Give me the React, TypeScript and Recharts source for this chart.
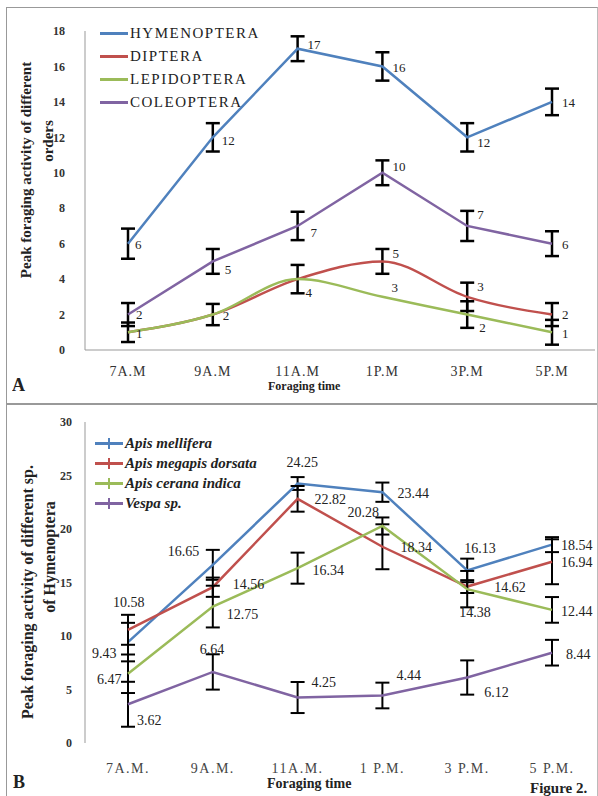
import React from 'react';
import { LineChart, Line, XAxis, YAxis, ErrorBar, LabelList } from 'recharts';

const SERIF = '"Liberation Serif", "Times New Roman", serif';

const timesA = ['7A.M', '9A.M', '11A.M', '1P.M', '3P.M', '5P.M'];
const timesB = ['7A.M.', '9A.M.', '11A.M.', '1 P.M.', '3 P.M.', '5 P.M.'];
const ticksA = [0, 2, 4, 6, 8, 10, 12, 14, 16, 18];
const ticksB = [0, 5, 10, 15, 20, 25, 30];

// panel A - orders
const hymenoptera = [6, 12, 17, 16, 12, 14];
const diptera = [1, 2, 4, 5, 3, 2];
const lepidoptera = [1, 2, 4, 3, 2, 1];
const coleoptera = [2, 5, 7, 10, 7, 6];
const hymenopteraErr = [0.85, 0.8, 0.7, 0.8, 0.8, 0.75];
const dipteraErr = [0.55, 0.6, 0.8, 0.7, 0.8, 0.65];
const lepidopteraErr = [null, null, null, null, 0.75, 0.7];
const coleopteraErr = [0.65, 0.7, 0.8, 0.7, 0.85, 0.7];

// panel B - species of hymenoptera
const apisMellifera = [9.43, 16.65, 24.25, 23.44, 16.13, 18.54];
const apisDorsata = [10.58, 14.56, 22.82, 18.34, 14.62, 16.94];
const apisCerana = [6.47, 12.75, 16.34, 20.28, 14.38, 12.44];
const vespa = [3.62, 6.64, 4.25, 4.44, 6.12, 8.44];
const melliferaErr = [1.8, 1.4, 0.6, 0.9, 1.1, 0.7];
const dorsataErr = [1.4, 0.9, 1.2, 2.1, 0.6, 2.1];
const ceranaErr = [1.8, 1.95, 1.45, 0.8, 1.7, 1.2];
const vespaErr = [2.1, 1.65, 1.45, 1.2, 1.6, 1.2];

const dataA = timesA.map((t, i) => ({
  time: t,
  hym: hymenoptera[i],
  dip: diptera[i],
  lep: lepidoptera[i],
  col: coleoptera[i],
  hymErr: hymenopteraErr[i],
  dipErr: dipteraErr[i],
  lepErr: lepidopteraErr[i],
  colErr: coleopteraErr[i],
}));

const dataB = timesB.map((t, i) => ({
  time: t,
  mel: apisMellifera[i],
  dor: apisDorsata[i],
  cer: apisCerana[i],
  ves: vespa[i],
  melErr: melliferaErr[i],
  dorErr: dorsataErr[i],
  cerErr: ceranaErr[i],
  vesErr: vespaErr[i],
}));

const BLUE = '#4F81BD';
const RED = '#C0504D';
const GREEN = '#9BBB59';
const PURPLE = '#8064A2';

type Off = [number, number] | null;

// label offsets from the point (dx, dy)
const hymLbl: Off[] = [[7, 1], [9, 3], [10, -4], [10, 1], [10, 5], [10, 1]];
const dipLbl: Off[] = [null, null, null, [10, -8], [10, -10], [10, 0]];
const lepLbl: Off[] = [[8, 1], [10, 1], [8, 13], [9, -9], [12, 13], [10, 1]];
const colLbl: Off[] = [[8, 0], [12, 8], [13, 7], [10, -6], [10, -11], [10, 1]];

const melLbl: Off[] = [[-36, 11], [-45, -13], [-11, -21], [15, 1], [-3, -22], [9, 1]];
const dorLbl: Off[] = [[-15, -27], [20, -3], [17, 1], [18, 1], [27, 1], [9, 1]];
const cerLbl: Off[] = [[-31, 6], [14, 8], [15, 2], [-35, -14], [-8, 23], [9, 2]];
const vesLbl: Off[] = [[9, 16], [-13, -22], [14, -15], [14, -20], [17, 15], [14, 2]];

const pointLabel = (offs: Off[], size: number) => (p: any) => {
  const o = offs[p.index];
  if (!o || p.x == null || p.y == null) return null;
  return (
    <text
      key={p.index}
      x={p.x + o[0]}
      y={p.y + o[1]}
      fontSize={size}
      fill="#222"
      fontFamily={SERIF}
      dominantBaseline="central"
    >
      {p.value}
    </text>
  );
};

const legendA = [
  { name: 'HYMENOPTERA', color: BLUE },
  { name: 'DIPTERA', color: RED },
  { name: 'LEPIDOPTERA', color: GREEN },
  { name: 'COLEOPTERA', color: PURPLE },
];

const legendB = [
  { name: 'Apis mellifera', color: BLUE },
  { name: 'Apis megapis dorsata', color: RED },
  { name: 'Apis cerana indica', color: GREEN },
  { name: 'Vespa sp.', color: PURPLE },
];

const abs = (left: number, top: number, extra: React.CSSProperties = {}): React.CSSProperties => ({
  position: 'absolute',
  left,
  top,
  whiteSpace: 'nowrap',
  ...extra,
});

const vertical = (cx: number, cy: number, size: number, text: string) => (
  <div
    style={abs(cx, cy, {
      transform: 'translate(-50%, -50%) rotate(-90deg)',
      fontSize: size,
      fontWeight: 'bold',
      color: '#222',
      lineHeight: 1,
    })}
  >
    {text}
  </div>
);

const App = () => {
  const errA = { width: 7, strokeWidth: 2.5, stroke: '#000' };
  const errB = { width: 7, strokeWidth: 2, stroke: '#000' };
  const lineProps = { dot: false, activeDot: false, strokeWidth: 2.5, isAnimationActive: false };

  return (
    <div
      style={{
        position: 'absolute',
        left: 0,
        top: 0,
        width: 598,
        height: 796,
        background: '#fff',
        fontFamily: SERIF,
        overflow: 'hidden',
      }}
    >
      {/* frame */}
      <div style={abs(6, 7, { width: 590, height: 800, borderLeft: '1px solid #999', borderTop: '1px solid #999', borderRight: '1px solid #bbb' })} />
      <div style={abs(6, 403, { width: 591, height: 0, borderTop: '2px solid #999' })} />

      {/* Panel A */}
      <div style={abs(7, 8)}>
        <LineChart width={588} height={386} data={dataA} margin={{ top: 23, right: 0, left: 0, bottom: 14 }}>
          <XAxis
            dataKey="time"
            height={30}
            padding={{ left: 43, right: 43 }}
            axisLine={{ stroke: '#999' }}
            tickLine={false}
            tickSize={0}
            tickMargin={16}
            tick={{ fontSize: 14, fill: '#333', fontFamily: SERIF, style: { letterSpacing: 1 } }}
          />
          <YAxis
            width={78}
            domain={[0, 18]}
            ticks={ticksA}
            axisLine={{ stroke: '#999' }}
            tickLine={false}
            tickSize={0}
            tickMargin={20}
            tick={{ fontSize: 12, fill: '#333', fontWeight: 'bold', fontFamily: SERIF }}
          />
          <Line dataKey="hym" stroke={BLUE} {...lineProps}>
            <ErrorBar dataKey="hymErr" direction="y" {...errA} />
            <LabelList dataKey="hym" content={pointLabel(hymLbl, 13)} />
          </Line>
          <Line dataKey="dip" type="monotone" stroke={RED} {...lineProps}>
            <ErrorBar dataKey="dipErr" direction="y" {...errA} />
            <LabelList dataKey="dip" content={pointLabel(dipLbl, 13)} />
          </Line>
          <Line dataKey="lep" type="monotone" stroke={GREEN} {...lineProps}>
            <ErrorBar dataKey="lepErr" direction="y" {...errA} />
            <LabelList dataKey="lep" content={pointLabel(lepLbl, 13)} />
          </Line>
          <Line dataKey="col" stroke={PURPLE} {...lineProps}>
            <ErrorBar dataKey="colErr" direction="y" {...errA} />
            <LabelList dataKey="col" content={pointLabel(colLbl, 13)} />
          </Line>
        </LineChart>
      </div>

      {legendA.map((l, i) => (
        <div key={l.name} style={abs(100, 24 + i * 23.3, { display: 'flex', alignItems: 'center', height: 18 })}>
          <span style={{ display: 'inline-block', width: 28, height: 3, background: l.color }} />
          <span style={{ marginLeft: 2, fontSize: 15, letterSpacing: 1.5, color: '#222' }}>{l.name}</span>
        </div>
      ))}

      {vertical(26, 170, 15, 'Peak foraging activity of different')}
      {vertical(48, 141, 15, 'orders')}
      <div style={abs(268, 379, { fontSize: 12, fontWeight: 'bold', color: '#222', lineHeight: '14px' })}>Foraging time</div>
      <div style={abs(12, 376, { fontSize: 18, fontWeight: 'bold', color: '#222', lineHeight: '18px' })}>A</div>

      {/* Panel B */}
      <div style={abs(7, 404)}>
        <LineChart width={588} height={386} data={dataB} margin={{ top: 18, right: 0, left: 0, bottom: 17 }}>
          <XAxis
            dataKey="time"
            height={30}
            padding={{ left: 43, right: 43 }}
            axisLine={false}
            tickLine={false}
            tickSize={0}
            tickMargin={20}
            tick={{ fontSize: 14, fill: '#444', fontFamily: SERIF, style: { letterSpacing: 1.5 } }}
          />
          <YAxis
            width={78}
            domain={[0, 30]}
            ticks={ticksB}
            axisLine={{ stroke: '#999' }}
            tickLine={false}
            tickSize={0}
            tickMargin={13}
            tick={{ fontSize: 12, fill: '#333', fontWeight: 'bold', fontFamily: SERIF }}
          />
          <Line dataKey="mel" stroke={BLUE} {...lineProps}>
            <ErrorBar dataKey="melErr" direction="y" {...errB} />
            <LabelList dataKey="mel" content={pointLabel(melLbl, 14)} />
          </Line>
          <Line dataKey="dor" stroke={RED} {...lineProps}>
            <ErrorBar dataKey="dorErr" direction="y" {...errB} />
            <LabelList dataKey="dor" content={pointLabel(dorLbl, 14)} />
          </Line>
          <Line dataKey="cer" stroke={GREEN} {...lineProps}>
            <ErrorBar dataKey="cerErr" direction="y" {...errB} />
            <LabelList dataKey="cer" content={pointLabel(cerLbl, 14)} />
          </Line>
          <Line dataKey="ves" stroke={PURPLE} {...lineProps}>
            <ErrorBar dataKey="vesErr" direction="y" {...errB} />
            <LabelList dataKey="ves" content={pointLabel(vesLbl, 14)} />
          </Line>
        </LineChart>
      </div>

      {legendB.map((l, i) => (
        <div key={l.name} style={abs(95, 434 + i * 20, { display: 'flex', alignItems: 'center', height: 18 })}>
          <span style={{ position: 'relative', display: 'inline-block', width: 28, height: 3, background: l.color }}>
            <span style={{ position: 'absolute', left: 13, top: -4, width: 1.5, height: 11, background: l.color }} />
          </span>
          <span style={{ marginLeft: 2, fontSize: 15, fontStyle: 'italic', fontWeight: 'bold', color: '#222' }}>{l.name}</span>
        </div>
      ))}

      {vertical(28, 592, 16, 'Peak foraging activity of different sp.')}
      {vertical(50, 557, 16, 'of Hymenoptera')}
      <div style={abs(267, 776, { fontSize: 14, fontWeight: 'bold', color: '#222', lineHeight: '16px' })}>Foraging time</div>
      <div style={abs(13, 773, { fontSize: 18, fontWeight: 'bold', color: '#222', lineHeight: '18px' })}>B</div>
      <div style={abs(530, 780, { fontSize: 15, fontWeight: 'bold', color: '#222', lineHeight: '16px' })}>Figure 2.</div>
    </div>
  );
};

export default App;
